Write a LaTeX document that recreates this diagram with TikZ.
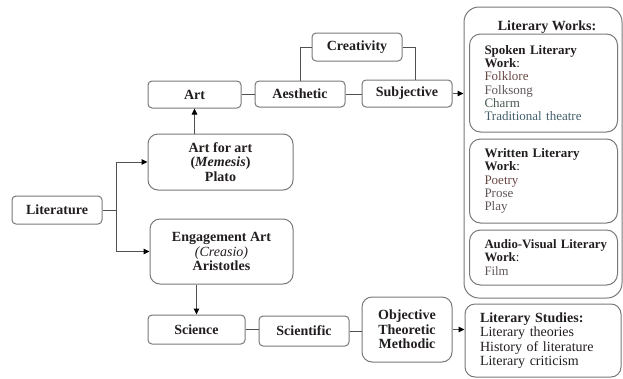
\documentclass[tikz,border=0pt]{standalone}
\usepackage{fontspec}
\setmainfont{Liberation Serif}
\usetikzlibrary{arrows.meta, calc}
\definecolor{boxgray}{RGB}{120,120,120}
\definecolor{linegray}{RGB}{80,80,80}
\definecolor{textdark}{RGB}{35,30,30}
\definecolor{itembrown}{RGB}{105,72,68}
\definecolor{itemgray}{RGB}{95,85,90}
\definecolor{itemgreen}{RGB}{72,92,80}
\definecolor{itemteal}{RGB}{68,95,108}

\begin{document}
\begin{tikzpicture}[x=1pt, y=-1pt, >={Triangle[length=6pt,width=5.5pt,color=black]},
    box/.style={draw=boxgray, line width=1pt, rounded corners=4pt, inner sep=0pt, align=center,
        font=\fontsize{14}{14.5}\selectfont\bfseries, text=textdark},
    bigbox/.style={box, rounded corners=10pt},
    listbox/.style={draw=boxgray, line width=1pt, rounded corners=11pt, inner xsep=15pt, inner ysep=0pt,
        align=left, text=textdark},
    link/.style={draw=linegray, line width=1pt}]
    \useasboundingbox (0,0) rectangle (623,378);

    % Main boxes
    \node[box, minimum width=90pt, minimum height=28pt] (lit) at (57,210) {Literature};
    \node[bigbox, minimum width=145pt, minimum height=56pt] (afa) at (220.5,162)
        {Art for art\\(\textit{Memesis})\\Plato};
    \node[bigbox, minimum width=143pt, minimum height=65pt] (eng) at (221.5,251.5)
        {Engagement Art\\{\mdseries\textit{(Creasio)}}\\Aristotles};

    % Upper row
    \node[box, minimum width=93pt, minimum height=27pt] (art) at (194.5,94.5) {Art};
    \node[box, minimum width=90pt, minimum height=26pt] (aes) at (300,94) {Aesthetic};
    \node[box, minimum width=90pt, minimum height=28pt] (crea) at (357,47) {Creativity};
    \node[box, minimum width=90pt, minimum height=27pt] (subj) at (407,93.5) {Subjective};

    % Lower row
    \node[box, minimum width=97pt, minimum height=29pt] (sci) at (196.5,329.5) {Science};
    \node[box, minimum width=90pt, minimum height=30pt] (scif) at (304,331) {Scientific};
    \node[bigbox, minimum width=90pt, minimum height=65pt] (obj) at (407,329.5)
        {Objective\\Theoretic\\Methodic};

    % Literary works
    \node[draw=boxgray, line width=1pt, rounded corners=15pt, minimum width=158pt, minimum height=291pt] (works) at (543,152.5) {};
    \node[font=\fontsize{14}{14.5}\selectfont\bfseries, text=textdark] (workshead) at (547,27) {Literary Works:};
    \node[listbox, text width=118pt, minimum height=98pt, font=\fontsize{13}{13.3}\selectfont] (spoken) at (543.5,83)
        {\textbf{Spoken Literary}\\\textbf{Work}:\\{\color{itembrown}Folklore}\\{\color{itemgray}Folksong}\\{\color{itemgreen}Charm}\\{\color{itemteal}Traditional theatre}};
    \node[listbox, text width=118pt, minimum height=84pt, font=\fontsize{13}{13.3}\selectfont] (written) at (543.5,181)
        {\textbf{Written Literary}\\\textbf{Work}:\\{\color{itembrown}Poetry}\\{\color{itemgray}Prose}\\{\color{itemgray}Play}};
    \node[listbox, text width=118pt, minimum height=55pt, font=\fontsize{12.8}{13.3}\selectfont] (audio) at (543.5,257.5)
        {\mbox{\textbf{Audio-Visual Literary}}\\\textbf{Work}:\\{\color{itemgray}Film}};

    % Literary studies
    \node[listbox, rounded corners=10pt, text width=126pt, minimum height=73pt, font=\fontsize{14}{14.5}\selectfont] (studies) at (543,340.5)
        {\textbf{Literary Studies:}\\Literary theories\\History of literature\\Literary criticism};

    % Connectors
    \coordinate (fork) at (116,210);
    \draw[link] (lit.east) -- (fork);
    \draw[link, ->] (fork) |- (afa.west);
    \draw[link, ->] (fork) |- (eng.west);
    \draw[link, ->] (afa.north -| art.south) -- (art.south);
    \draw[link, ->] (eng.south -| sci.north) -- (sci.north);
    \draw[link] (art.east) -- (art.east -| aes.west);
    \draw[link] (aes.north) |- (crea.west);
    \draw[link] (crea.east) -| ([xshift=8pt]subj.north);
    \draw[link] (aes.east) -- (aes.east -| subj.west);
    \draw[link, ->] (subj.east) -- (subj.east -| works.west);
    \draw[link] (sci.east) -- (sci.east -| scif.west);
    \draw[link] (scif.east) -- (scif.east -| obj.west);
    \draw[link, ->] (obj.east) -- (obj.east -| studies.west);
\end{tikzpicture}
\end{document}
